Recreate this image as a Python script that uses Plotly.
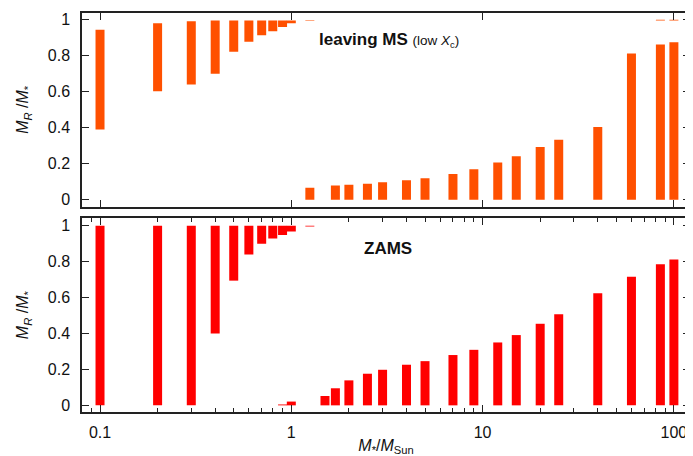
import math
import plotly.graph_objects as go

# ---------------- data ----------------
# top panel ("leaving MS"): one segment per entry (mass, lower, upper)
top_mass = [0.1, 0.2, 0.3, 0.4, 0.5, 0.6, 0.7, 0.8, 0.9, 1.0, 1.25,
            1.25, 1.7, 2.0, 2.5, 3, 4, 5, 7, 9, 12, 15, 20, 25, 40, 60, 85, 100,
            85, 100]
top_lo = [0.39, 0.603, 0.64, 0.70, 0.822, 0.878, 0.913, 0.935, 0.959, 0.98, 0.992,
          0, 0, 0, 0, 0, 0, 0, 0, 0, 0, 0, 0, 0, 0, 0, 0, 0,
          0.995, 0.995]
top_hi = [0.944, 0.98, 0.991, 0.996, 0.996, 0.996, 0.996, 0.996, 0.996, 0.996, 0.996,
          0.066, 0.079, 0.083, 0.089, 0.097, 0.108, 0.119, 0.143, 0.169, 0.207, 0.242,
          0.292, 0.333, 0.404, 0.812, 0.862, 0.875,
          1.0, 1.0]

# bottom panel ("ZAMS")
bot_mass = [0.1, 0.2, 0.3, 0.4, 0.5, 0.6, 0.7, 0.8, 0.9, 1.0, 1.25,
            0.9, 1.0, 1.5, 1.7, 2.0, 2.5, 3, 4, 5, 7, 9, 12, 15, 20, 25, 40, 60, 85, 100]
bot_lo = [0, 0, 0, 0.40, 0.694, 0.839, 0.90, 0.928, 0.948, 0.967, 0.996,
          0, 0, 0, 0, 0, 0, 0, 0, 0, 0, 0, 0, 0, 0, 0, 0, 0, 0, 0]
bot_hi = [1, 1, 1, 1, 1, 1, 1, 1, 1, 1, 1.0,
          0.005, 0.021, 0.052, 0.095, 0.139, 0.176, 0.198, 0.226, 0.246, 0.280,
          0.309, 0.350, 0.391, 0.454, 0.507, 0.624, 0.715, 0.785, 0.811]

x_tick_vals = [0.1, 1, 10, 100]
x_tick_text = ["0.1", "1", "10", "100"]
y_tick_vals = [0, 0.2, 0.4, 0.6, 0.8, 1.0]
y_tick_text = ["0", "0.2", "0.4", "0.6", "0.8", "1"]

TOP_COLOR = "#FF5000"
BOT_COLOR = "#FF0000"
FONT = "Liberation Sans, Arial, Helvetica, sans-serif"


def segments(mass, lo, hi):
    xs, ys = [], []
    for m, a, b in zip(mass, lo, hi):
        xs += [m, m, None]
        ys += [a, b, None]
    return xs, ys


fig = go.Figure()
tx, ty = segments(top_mass, top_lo, top_hi)
bx, by = segments(bot_mass, bot_lo, bot_hi)
fig.add_trace(go.Scatter(x=tx, y=ty, mode="lines", xaxis="x", yaxis="y",
                         line=dict(color=TOP_COLOR, width=9),
                         hoverinfo="skip", showlegend=False))
fig.add_trace(go.Scatter(x=bx, y=by, mode="lines", xaxis="x2", yaxis="y2",
                         line=dict(color=BOT_COLOR, width=9),
                         hoverinfo="skip", showlegend=False))

xrange = [math.log10(0.0805), math.log10(121.4)]
frame = dict(showline=True, linecolor="#222", linewidth=1.5, mirror="allticks",
             ticks="inside", ticklen=7, tickwidth=1, tickcolor="#222",
             showgrid=False, zeroline=False, automargin=False)

ytitle = "<i>M</i><sub><i>R</i></sub> /<i>M</i><sub>*</sub>"

# the page body adds an 8 px offset, so the figure is 8 px smaller each way
fig.update_layout(
    width=685, height=448,
    margin=dict(l=74, r=3, t=5, b=44),
    paper_bgcolor="white", plot_bgcolor="white",
    font=dict(family=FONT, size=16, color="#111"),
    xaxis=dict(type="log", range=xrange, anchor="y", tickvals=x_tick_vals,
               ticktext=x_tick_text, showticklabels=False, **frame),
    yaxis=dict(domain=[0.5145, 1], range=[-0.039, 1.037], anchor="x",
               tickvals=y_tick_vals, ticktext=y_tick_text,
               ticklabelstandoff=7,
               title=dict(text=ytitle, standoff=15, font=dict(size=16)), **frame),
    xaxis2=dict(type="log", range=xrange, anchor="y2", tickvals=x_tick_vals,
                ticktext=x_tick_text, ticklabelstandoff=5,
                minor=dict(ticks="inside", ticklen=4, tickwidth=1, tickcolor="#222",
                           dtick="D1", showgrid=False),
                title=dict(text="<i>M</i><sub>*</sub>/<i>M</i><sub>Sun</sub>",
                           standoff=5, font=dict(size=16)),
                **frame),
    yaxis2=dict(domain=[0, 0.4855], range=[-0.037, 1.041], anchor="x2",
                tickvals=y_tick_vals, ticktext=y_tick_text,
                ticklabelstandoff=7,
                title=dict(text=ytitle, standoff=15, font=dict(size=16)), **frame),
    annotations=[
        dict(xref="paper", yref="paper", x=0.386, y=0.932, xanchor="left",
             yanchor="middle", showarrow=False,
             text="<b>leaving MS</b> <span style='font-size:13.5px'>(low <i>X</i><sub>c</sub>)</span>",
             font=dict(size=17, color="#111")),
        dict(xref="paper", yref="paper", x=0.46, y=0.411, xanchor="left",
             yanchor="middle", showarrow=False, text="<b>ZAMS</b>",
             font=dict(size=17, color="#111")),
    ],
)

fig.write_html("out.html")
